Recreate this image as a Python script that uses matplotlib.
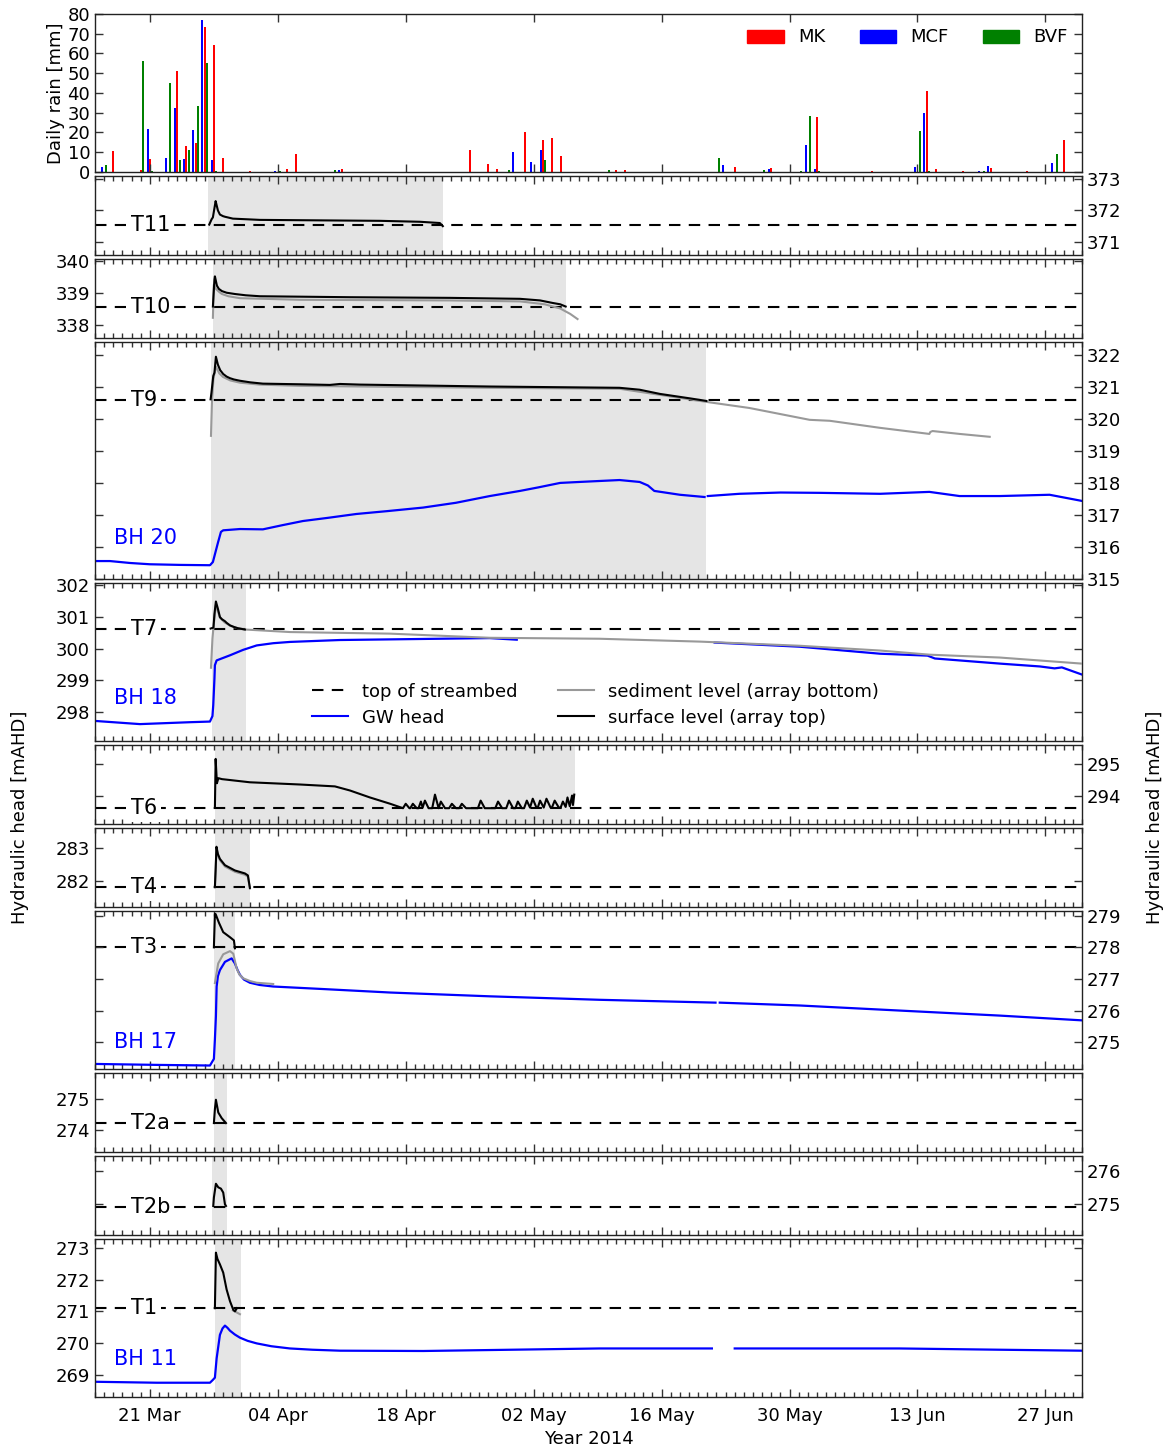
import matplotlib

matplotlib.use("Agg")
import matplotlib.dates as mdates
import matplotlib.pyplot as plt
import numpy as np
import pandas as pd
from matplotlib.lines import Line2D
from matplotlib.patches import Patch
from matplotlib.ticker import FixedLocator, FormatStrFormatter, MultipleLocator

plt.rcParams["font.family"] = "DejaVu Sans"
plt.rcParams["font.size"] = 13

# all series are keyed by day offset from 15 Mar 2014 (00:00)
START = pd.Timestamp("2014-03-15")
X_END_DAY = 108
TICK_DATES = ["2014-03-21", "2014-04-04", "2014-04-18", "2014-05-02",
              "2014-05-16", "2014-05-30", "2014-06-13", "2014-06-27"]

# daily rain [mm] at the three gauges
mk_day = [0, 2, 5, 6, 9, 10, 11, 12, 13, 14, 17, 21, 22, 27, 41, 43, 44, 47,
          49, 50, 51, 57, 58, 70, 74, 79, 85, 91, 92, 95, 98, 102, 106]
mk_mm = [1.0, 10.4, 1.0, 6.4, 51.3, 13.1, 14.6, 73.3, 64.4, 7.0, 0.3, 1.7, 8.9,
         1.3, 11.0, 4.0, 1.5, 20.0, 16.0, 17.0, 8.0, 0.8, 0.8, 2.3, 1.8, 27.7,
         0.3, 40.8, 1.3, 0.3, 2.0, 0.3, 16.0]
mcf_day = [1, 6, 8, 9, 10, 11, 12, 13, 20, 27, 46, 48, 49, 69, 74, 78, 79, 90,
           91, 97, 98, 105]
mcf_mm = [2.3, 21.8, 7.0, 32.2, 6.4, 21.1, 77.0, 6.0, 0.3, 0.8, 10.0, 5.0, 11.0,
          3.5, 1.5, 13.6, 1.3, 2.7, 30.0, 0.3, 3.0, 4.4]
bvf_day = [1, 5, 6, 8, 9, 10, 11, 12, 13, 20, 26, 45, 49, 56, 68, 73, 77, 78,
           79, 90, 91, 97, 105]
bvf_mm = [3.4, 56.0, 0.7, 45.3, 6.0, 11.1, 33.2, 55.3, 0.3, 0.3, 0.8, 1.0, 6.0,
          1.0, 6.9, 0.8, 0.3, 28.2, 0.3, 20.6, 0.3, 0.6, 9.2]

# T11
t11_top_day = [12.5, 12.76, 12.9, 13.2, 13.3, 13.45, 13.67, 14.0, 14.22, 15.09,
               18.05, 22.42, 31.17, 35.55, 37.73, 38.06]
t11_top_m = [371.55, 371.72, 371.78, 372.30, 372.18, 372.00, 371.87, 371.82,
             371.80, 371.74, 371.70, 371.69, 371.67, 371.64, 371.60, 371.50]

# T10
t10_top_day = [12.9, 13.07, 13.12, 13.34, 13.55, 13.89, 14.4, 15.31, 16.5, 18.05,
               27.9, 38.8, 46.5, 48.7, 50.1, 50.9, 51.5]
t10_top_m = [338.58, 339.42, 339.52, 339.23, 339.13, 339.06, 339.01, 338.97,
             338.93, 338.90, 338.87, 338.85, 338.82, 338.77, 338.69, 338.65,
             338.58]
t10_bot_day = [12.9, 13.0, 13.23, 13.6, 13.89, 14.6, 15.86, 22.4, 38.8, 46.5,
               49.2, 50.9, 52.0, 52.8]
t10_bot_m = [338.23, 339.26, 339.13, 339.03, 338.97, 338.90, 338.84, 338.79,
             338.77, 338.74, 338.65, 338.52, 338.35, 338.19]

# T9 / BH 20
t9_top_day = [12.65, 12.74, 12.94, 13.07, 13.23, 13.45, 13.7, 14.03, 14.4,
              14.77, 15.2, 15.86, 17.0, 18.37, 22.42, 25.7, 26.8, 28.98, 43.2,
              57.4, 59.6, 61.8, 65.1, 66.9]
t9_top_m = [320.61, 320.81, 321.34, 321.44, 321.94, 321.69, 321.52, 321.40,
            321.32, 321.27, 321.23, 321.19, 321.14, 321.10, 321.08, 321.06,
            321.09, 321.07, 321.01, 320.97, 320.91, 320.78, 320.64, 320.56]
t9_bot_day = [12.69, 12.8, 12.96, 13.23, 13.6, 14.0, 14.8, 15.86, 18.0, 22.42,
              43.2, 57.4, 61.8, 66.9, 71.6, 78.2, 80.4, 85.9, 91.3, 91.4, 91.65,
              94.6, 97.9]
t9_bot_m = [319.47, 320.56, 321.25, 321.63, 321.42, 321.31, 321.20, 321.13,
            321.07, 321.03, 320.97, 320.94, 320.75, 320.53, 320.34, 319.97,
            319.94, 319.72, 319.53, 319.59, 319.62, 319.53, 319.44]
bh20_day = [0, 1.64, 3.83, 6.0, 9.3, 12.58, 12.9, 13.12, 13.45, 13.78, 14.03,
            15.86, 18.37, 20.5, 22.75, 25.5, 28.6, 32.0, 35.9, 39.5, 43.2, 46.5,
            48.5, 50.9, 53.0, 55.2, 57.4, 59.6, 60.5, 61.2, 64.0, 66.7, 66.9,
            67.05, 70.5, 75.0, 79.3, 85.9, 91.3, 94.6, 99.0, 104.45, 107.95]
bh20_m = [315.56, 315.56, 315.50, 315.46, 315.44, 315.43, 315.53, 315.77,
          316.13, 316.47, 316.52, 316.56, 316.55, 316.68, 316.81, 316.91,
          317.03, 317.12, 317.23, 317.38, 317.59, 317.75, 317.86, 318.00,
          318.03, 318.06, 318.09, 318.03, 317.92, 317.75, 317.63, 317.56,
          np.nan, 317.59, 317.66, 317.70, 317.69, 317.66, 317.72, 317.59,
          317.59, 317.63, 317.44]

# T7 / BH 18
t7_top_day = [12.65, 12.96, 13.07, 13.23, 13.45, 13.67, 13.9, 14.22, 14.4,
              14.77, 15.2, 15.64, 16.4]
t7_top_m = [300.63, 300.66, 301.09, 301.48, 301.25, 300.99, 300.92, 300.86,
            300.81, 300.73, 300.68, 300.64, 300.60]
t7_bot_day = [12.69, 12.85, 12.96, 13.23, 13.67, 14.2, 14.77, 15.6, 16.4, 21.33,
              32.3, 43.2, 55.2, 66.2, 77.1, 85.9, 91.3, 99.0, 107.95]
t7_bot_m = [299.40, 300.31, 300.66, 301.38, 300.97, 300.82, 300.72, 300.64,
            300.60, 300.52, 300.47, 300.34, 300.31, 300.22, 300.09, 299.94,
            299.81, 299.72, 299.53]
bh18_day = [0, 4.92, 10.39, 12.58, 12.85, 12.94, 13.07, 13.12, 13.31, 14.77,
            16.2, 17.69, 19.5, 21.33, 26.8, 43.2, 46.15, 46.3, 67.8, 77.1, 85.9,
            91.1, 91.9, 99.0, 103.4, 105.0, 105.8, 107.95]
bh18_m = [297.73, 297.63, 297.69, 297.71, 297.88, 298.23, 299.06, 299.48,
          299.63, 299.79, 299.96, 300.10, 300.17, 300.21, 300.27, 300.33,
          300.28, np.nan, 300.19, 300.06, 299.84, 299.78, 299.69, 299.53,
          299.44, 299.38, 299.41, 299.19]

# T6: slow recession, then small daily pulses on top of the streambed
t6_top_day = [13.12, 13.2, 13.34, 13.5, 13.89, 16.95, 22.42, 26.25, 27.9, 30.08,
              32.3, 33.7, 34.0, 34.4, 34.5, 34.78, 35.2, 35.4, 35.66, 35.85,
              36.1, 36.5, 36.9, 37.2, 37.6, 37.84, 38.3, 38.75, 39.05, 39.5,
              39.85, 40.14, 40.6, 41.9, 42.2, 42.65, 43.8, 44.1, 44.55, 45.0,
              45.3, 45.75, 46.0, 46.27, 46.7, 46.95, 47.25, 47.6, 47.9, 48.3,
              48.45, 48.7, 49.1, 49.4, 49.85, 50.0, 50.3, 50.75, 50.95, 51.2,
              51.5, 51.7, 51.95, 52.2, 52.3, 52.44]
t6_top_m = [293.61, 295.16, 294.39, 294.55, 294.52, 294.42, 294.35, 294.29,
            294.16, 293.94, 293.74, 293.60, 293.74, 293.60, 293.60, 293.74,
            293.60, 293.60, 293.81, 293.62, 293.84, 293.60, 293.60, 294.03,
            293.60, 293.81, 293.60, 293.60, 293.74, 293.60, 293.60, 293.74,
            293.60, 293.60, 293.84, 293.60, 293.60, 293.81, 293.60, 293.60,
            293.84, 293.60, 293.60, 293.81, 293.60, 293.60, 293.84, 293.62,
            293.90, 293.62, 293.62, 293.84, 293.62, 293.90, 293.62, 293.62,
            293.84, 293.62, 293.62, 293.81, 293.64, 293.94, 293.66, 294.00,
            293.70, 294.03]

# T4
t4_top_day = [13.12, 13.2, 13.29, 13.45, 13.67, 14.22, 15.31, 16.4, 16.73, 16.95]
t4_top_m = [281.81, 282.34, 283.03, 282.81, 282.66, 282.47, 282.31, 282.22,
            282.16, 281.78]
t4_bot_m = [281.79, 282.30, 282.98, 282.77, 282.62, 282.43, 282.27, 282.18,
            282.12, 281.76]

# T3 / BH 17
t3_top_day = [13.01, 13.12, 13.2, 13.56, 14.03, 14.77, 15.2, 15.31]
t3_top_m = [278.00, 279.06, 279.05, 278.78, 278.48, 278.32, 278.22, 277.97]
t3_bot_day = [13.12, 13.48, 14.03, 14.77, 15.13, 15.5, 15.8, 16.22, 17.0, 17.69,
              19.5]
t3_bot_m = [276.87, 277.49, 277.78, 277.88, 277.80, 277.33, 277.14, 277.02,
            276.93, 276.88, 276.84]
bh17_day = [0, 6.75, 12.58, 13.01, 13.12, 13.23, 13.31, 13.45, 13.67, 14.22,
            14.95, 15.31, 15.6, 15.86, 16.3, 16.95, 18.0, 19.5, 24.97, 32.3,
            43.2, 55.2, 67.9, 68.1, 68.36, 77.1, 88.0, 99.0, 107.95]
bh17_m = [274.31, 274.28, 274.26, 274.47, 275.09, 275.82, 276.76, 277.09,
          277.28, 277.54, 277.65, 277.49, 277.28, 277.13, 276.98, 276.88,
          276.81, 276.76, 276.68, 276.57, 276.45, 276.34, 276.25, np.nan,
          276.25, 276.16, 276.00, 275.84, 275.69]

# T2a, T2b
t2a_top_day = [13.01, 13.12, 13.23, 13.49, 13.86, 14.33]
t2a_top_m = [274.23, 274.68, 274.98, 274.57, 274.39, 274.23]
t2b_top_day = [12.94, 13.01, 13.23, 13.49, 13.78, 14.03, 14.22, 14.33]
t2b_top_m = [274.94, 275.20, 275.62, 275.51, 275.47, 275.35, 274.99, 274.94]

# T1 / BH 11
t1_top_day = [13.12, 13.23, 13.4, 13.67, 14.03, 14.4, 14.77, 15.13, 15.31, 15.53]
t1_top_m = [271.10, 272.85, 272.65, 272.48, 272.22, 271.69, 271.32, 271.05,
            271.00, 271.10]
t1_bot_day = [15.09, 15.86]
t1_bot_m = [271.03, 270.91]
bh11_day = [0, 6.75, 12.58, 12.9, 13.12, 13.31, 13.67, 13.95, 14.22, 14.5,
            14.77, 15.3, 15.86, 16.7, 17.69, 19.3, 21.33, 23.8, 26.8, 35.9,
            43.2, 55.2, 67.5, 68.5, 70.0, 88.0, 99.0, 107.95]
bh11_m = [268.78, 268.75, 268.75, 268.84, 268.91, 269.52, 270.26, 270.46,
          270.55, 270.48, 270.39, 270.27, 270.17, 270.07, 269.99, 269.90,
          269.83, 269.79, 269.76, 269.75, 269.78, 269.83, 269.83, np.nan,
          269.83, 269.83, 269.79, 269.76]

# per-array info: name, streambed level, y range, recorded (flow) period in days
panels = [
    dict(name="T11", bed=371.55, ylim=(370.58, 373.1), flow=(12.36, 38.06),
         side="right", top=(t11_top_day, t11_top_m)),
    dict(name="T10", bed=338.58, ylim=(337.6, 340.06), flow=(12.9, 51.5),
         side="left", top=(t10_top_day, t10_top_m), bot=(t10_bot_day, t10_bot_m)),
    dict(name="T9", bed=320.6, ylim=(315.0, 322.4), flow=(12.7, 66.9),
         side="right", top=(t9_top_day, t9_top_m), bot=(t9_bot_day, t9_bot_m),
         gw=(bh20_day, bh20_m), bh="BH 20", bh_y=316.28),
    dict(name="T7", bed=300.62, ylim=(297.1, 302.06), flow=(12.8, 16.5),
         side="left", top=(t7_top_day, t7_top_m), bot=(t7_bot_day, t7_bot_m),
         gw=(bh18_day, bh18_m), bh="BH 18", bh_y=298.44),
    dict(name="T6", bed=293.6, ylim=(293.1, 295.6), flow=(13.1, 52.5),
         side="right", top=(t6_top_day, t6_top_m)),
    dict(name="T4", bed=281.8, ylim=(281.2, 283.6), flow=(13.1, 17.0),
         side="left", top=(t4_top_day, t4_top_m), bot=(t4_top_day, t4_bot_m)),
    dict(name="T3", bed=278.0, ylim=(274.15, 279.15), flow=(13.0, 15.3),
         side="right", top=(t3_top_day, t3_top_m), bot=(t3_bot_day, t3_bot_m),
         gw=(bh17_day, bh17_m), bh="BH 17", bh_y=275.0),
    dict(name="T2a", bed=274.23, ylim=(273.3, 275.84), flow=(13.0, 14.4),
         side="left", top=(t2a_top_day, t2a_top_m)),
    dict(name="T2b", bed=274.9, ylim=(274.05, 276.47), flow=(12.8, 14.4),
         side="right", top=(t2b_top_day, t2b_top_m)),
    dict(name="T1", bed=271.1, ylim=(268.3, 273.28), flow=(13.1, 16.0),
         side="left", top=(t1_top_day, t1_top_m), bot=(t1_bot_day, t1_bot_m),
         gw=(bh11_day, bh11_m), bh="BH 11", bh_y=269.5),
]

X0 = mdates.date2num(START)
BLUE = "#0000ff"
GREY = "#999999"
SHADE = "#e5e5e5"
BED_STYLE = (0, (5.5, 4.0))


def dnum(days):
    return X0 + np.asarray(days, dtype=float)


def style_axis(ax, minor=True):
    ax.set_xlim(X0, X0 + X_END_DAY)
    ax.xaxis.set_major_locator(FixedLocator(mdates.date2num(pd.to_datetime(TICK_DATES))))
    ax.xaxis.set_major_formatter(mdates.DateFormatter("%d %b"))
    if minor:
        # date numbers are in days, so integer steps fall on midnight
        ax.xaxis.set_minor_locator(MultipleLocator(1))
    ax.tick_params(which="both", direction="in", top=True, right=True,
                   labelbottom=False, width=1, colors="#333333", labelcolor="black")
    ax.tick_params(which="major", length=6)
    ax.tick_params(which="minor", length=3.5)
    for spine in ax.spines.values():
        spine.set_color("#222222")
        spine.set_linewidth(1.0)


fig = plt.figure(figsize=(11.67, 14.5), dpi=100)
gs = fig.add_gridspec(11, 1, height_ratios=[2, 1, 1, 3, 2, 1, 1, 2, 1, 1, 2],
                      left=95 / 1167, right=1082 / 1167, top=1 - 14 / 1450,
                      bottom=1 - 1397 / 1450, hspace=0.0328)
axes = [fig.add_subplot(gs[i]) for i in range(11)]

# rainfall
ax = axes[0]
ax.bar(dnum(mk_day), mk_mm, width=0.22, color="red", linewidth=0)
ax.bar(dnum(mcf_day) - 0.25, mcf_mm, width=0.22, color=BLUE, linewidth=0)
ax.bar(dnum(bvf_day) + 0.25, bvf_mm, width=0.22, color="green", linewidth=0)
style_axis(ax, minor=False)
ax.set_ylim(0, 80)
ax.yaxis.set_major_locator(MultipleLocator(10))
ax.set_ylabel("Daily rain [mm]", labelpad=2)
ax.legend(handles=[Patch(color="red", label="MK"), Patch(color=BLUE, label="MCF"),
                   Patch(color="green", label="BVF")],
          loc="upper right", ncol=3, frameon=False, fontsize=13, handlelength=2.0,
          handleheight=0.75, columnspacing=1.9, borderaxespad=0.4)

for ax, p in zip(axes[1:], panels):
    ax.axvspan(X0 + p["flow"][0], X0 + p["flow"][1], color=SHADE, lw=0, zorder=0)
    ax.axhline(p["bed"], color="black", lw=1.5, ls=BED_STYLE, zorder=1)
    if "gw" in p:
        ax.plot(dnum(p["gw"][0]), p["gw"][1], color=BLUE, lw=1.6, zorder=2)
    if "bot" in p:
        ax.plot(dnum(p["bot"][0]), p["bot"][1], color=GREY, lw=1.5, zorder=3)
    ax.plot(dnum(p["top"][0]), p["top"][1], color="black", lw=1.5, zorder=4)
    ax.text(0.036, p["bed"], p["name"], transform=ax.get_yaxis_transform(),
            fontsize=15, ha="left", va="center", zorder=5,
            bbox=dict(facecolor="white", edgecolor="none", pad=3))
    if "bh" in p:
        ax.text(0.019, p["bh_y"], p["bh"], transform=ax.get_yaxis_transform(),
                fontsize=15, color=BLUE, ha="left", va="center")
    style_axis(ax)
    ax.set_ylim(*p["ylim"])
    ax.yaxis.set_major_locator(MultipleLocator(1))
    ax.yaxis.set_major_formatter(FormatStrFormatter("%d"))
    if p["side"] == "right":
        ax.tick_params(axis="y", labelleft=False, labelright=True)

axes[-1].tick_params(labelbottom=True)
axes[-1].tick_params(axis="x", pad=7)
axes[-1].set_xlabel("Year 2014", labelpad=4)

# legend for the head panels
axes[4].legend(
    handles=[
        Line2D([], [], color="black", lw=1.5, ls=BED_STYLE, label="top of streambed"),
        Line2D([], [], color=BLUE, lw=1.5, label="GW head"),
        Line2D([], [], color=GREY, lw=1.5, label="sediment level (array bottom)"),
        Line2D([], [], color="black", lw=1.5, label="surface level (array top)"),
    ],
    loc="center", bbox_to_anchor=(0.507, 0.23), ncol=2, frameon=False, fontsize=13,
    handlelength=2.0, columnspacing=2.2, labelspacing=0.45,
)

fig.text(20 / 1167, 1 - 817 / 1450, "Hydraulic head [mAHD]", rotation=90,
         ha="center", va="center", fontsize=13)
fig.text(1155 / 1167, 1 - 817 / 1450, "Hydraulic head [mAHD]", rotation=90,
         ha="center", va="center", fontsize=13)

fig.savefig("out.png", dpi=100)
plt.close(fig)
